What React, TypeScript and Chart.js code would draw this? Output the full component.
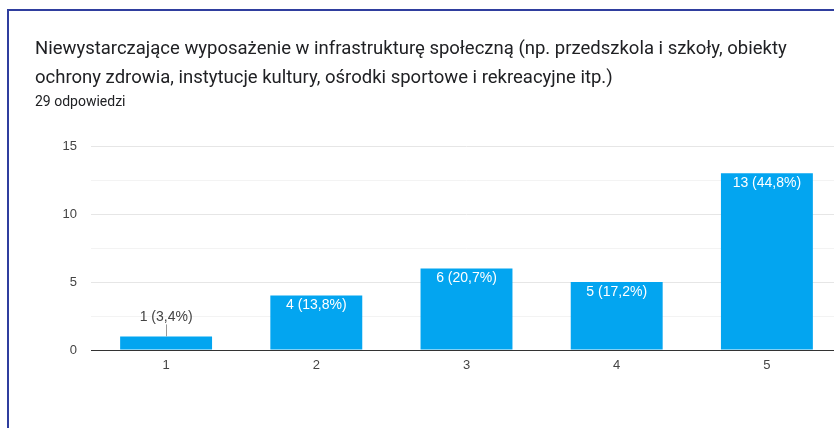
import React, { useEffect, useRef } from "react";
import { Chart, registerables } from "chart.js";

Chart.register(...registerables);

const TITLE_LINES = [
  "Niewystarczające wyposażenie w infrastrukturę społeczną (np. przedszkola i szkoły, obiekty",
  "ochrony zdrowia, instytucje kultury, ośrodki sportowe i rekreacyjne itp.)",
];
const SUBTITLE = "29 odpowiedzi";
const categories = ["1", "2", "3", "4", "5"];
const counts = [1, 4, 6, 5, 13];
const percents = ["3,4%", "13,8%", "20,7%", "17,2%", "44,8%"];
const yTicks = [0, 5, 10, 15];

const BAR_COLOR = "#03a5f0";
const FONT = "Roboto, Arial, sans-serif";
const AXIS_FONT = "'Liberation Sans', Arial, sans-serif";

const labelPlugin = {
  id: "barLabels",
  afterDatasetsDraw(chart: any) {
    const ctx = chart.ctx;
    const meta = chart.getDatasetMeta(0);
    ctx.save();
    ctx.font = `14px ${AXIS_FONT}`;
    ctx.textAlign = "center";
    ctx.textBaseline = "middle";
    meta.data.forEach((bar: any, i: number) => {
      const text = `${counts[i]} (${percents[i]})`;
      const h = bar.base - bar.y;
      if (h < 25) {
        ctx.strokeStyle = "#999999";
        ctx.lineWidth = 1;
        ctx.beginPath();
        ctx.moveTo(Math.round(bar.x) + 0.5, bar.y);
        ctx.lineTo(Math.round(bar.x) + 0.5, bar.y - 12);
        ctx.stroke();
        ctx.fillStyle = "#444444";
        ctx.fillText(text, bar.x, bar.y - 19);
      } else {
        ctx.fillStyle = "#ffffff";
        ctx.fillText(text, bar.x, bar.y + 10);
      }
    });
    ctx.restore();
  },
};

export default function App() {
  const ref = useRef<HTMLCanvasElement>(null);
  useEffect(() => {
    if (!ref.current) return;
    const chart = new Chart(ref.current, {
      type: "bar",
      data: {
        labels: categories,
        datasets: [
          {
            data: counts,
            backgroundColor: BAR_COLOR,
            categoryPercentage: 0.8,
            barPercentage: 0.765,
          },
        ],
      },
      options: {
        animation: false,
        responsive: false,
        devicePixelRatio: 1,
        layout: { padding: { left: 0, top: 146, right: 18, bottom: 38 } },
        plugins: {
          legend: { display: false },
          tooltip: { enabled: false },
          title: { display: false },
        },
        scales: {
          x: {
            grid: { display: false, drawTicks: false },
            border: { display: true, color: "#333333", width: 1 },
            ticks: { color: "#444444", font: { family: AXIS_FONT, size: 13 }, padding: 8 },
            afterFit: (s: any) => {
              s.height = 40;
            },
          },
          y: {
            min: 0,
            max: 15,
            border: { display: false },
            grid: {
              drawTicks: false,
              color: (c: any) =>
                c.tick && c.tick.value % 5 === 0 ? "#e6e6e6" : "#f3f3f3",
            },
            ticks: {
              stepSize: 2.5,
              color: "#444444",
              font: { family: AXIS_FONT, size: 13 },
              padding: 14,
              callback: (v: any) => (yTicks.includes(Number(v)) ? String(v) : ""),
            },
            afterFit: (s: any) => {
              s.width = 91;
            },
          },
        },
      },
      plugins: [labelPlugin],
    });
    return () => chart.destroy();
  }, []);

  return (
    <div
      style={{
        position: "fixed",
        left: 0,
        top: 0,
        width: 834,
        height: 428,
        overflow: "hidden",
        background: "#ffffff",
        fontFamily: FONT,
      }}
    >
      <canvas
        ref={ref}
        width={860}
        height={428}
        style={{ position: "absolute", left: 0, top: 0, width: 860, height: 428 }}
      />
      <div
        style={{
          position: "absolute",
          left: 7,
          top: 9,
          width: 900,
          height: 500,
          borderLeft: "2px solid #2f3e9e",
          borderTop: "2px solid #2f3e9e",
          pointerEvents: "none",
        }}
      />
      <div
        style={{
          position: "absolute",
          left: 35,
          top: 34,
          fontSize: 18.5,
          lineHeight: "29px",
          color: "#202124",
          whiteSpace: "nowrap",
        }}
      >
        {TITLE_LINES.map((l, i) => (
          <div key={i}>{l}</div>
        ))}
      </div>
      <div
        style={{
          position: "absolute",
          left: 35,
          top: 92,
          fontSize: 14,
          lineHeight: "18px",
          color: "#202124",
          whiteSpace: "nowrap",
        }}
      >
        {SUBTITLE}
      </div>
    </div>
  );
}
